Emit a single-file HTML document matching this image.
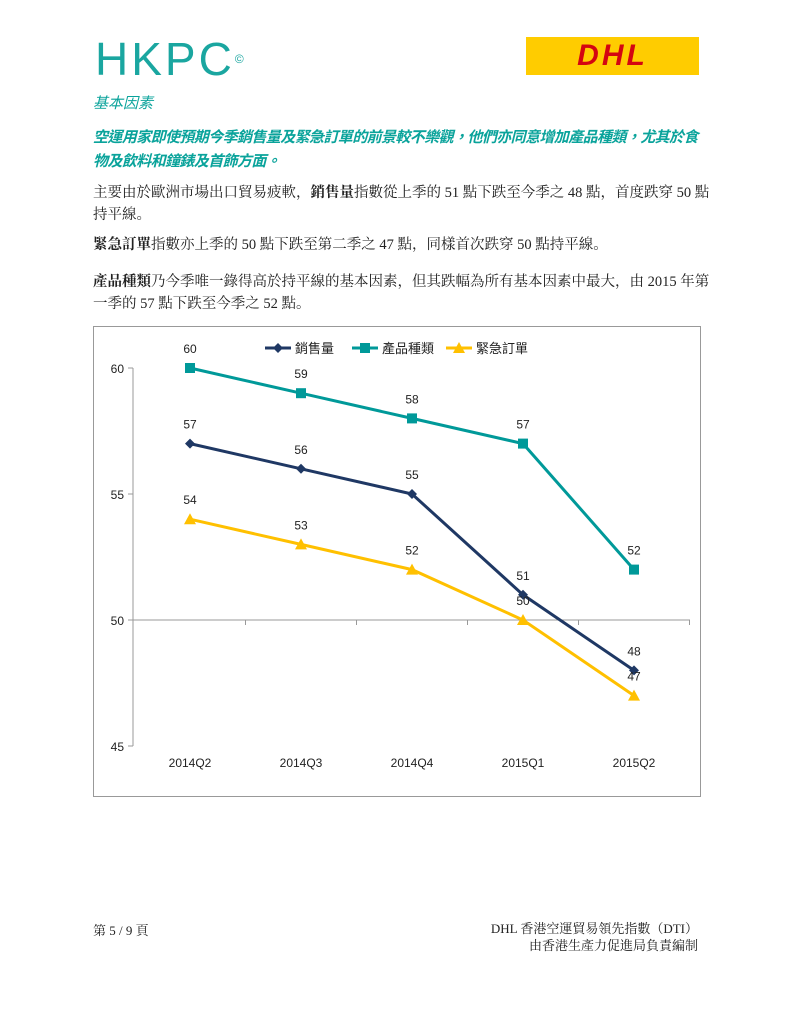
<!DOCTYPE html>
<html><head><meta charset="utf-8">
<style>
body{margin:0;width:791px;height:1024px;background:#fff;position:relative;font-family:"Liberation Serif","Noto Serif CJK SC","Noto Sans CJK TC",serif;color:#222;overflow:hidden}
.abs{position:absolute}
.t{font-size:14.5px;line-height:22px;left:93px;width:625px}
.teal{color:#0aa39b;font-style:italic;font-family:"Liberation Sans","Noto Sans CJK TC",sans-serif}
</style></head><body>
<div class="abs" style="left:95px;top:36px;font:46px 'Liberation Sans',sans-serif;color:#1aa6a0;letter-spacing:3px;line-height:46px">HKPC<span style="font-size:12px;vertical-align:top">©</span></div>
<div class="abs" style="left:526px;top:37px;width:173px;height:38px;background:#ffcc00;text-align:center;font:italic bold 30px 'Liberation Sans',sans-serif;color:#d40511;line-height:38px;letter-spacing:3px">DHL</div>
<div class="abs teal" style="left:93px;top:92px;font-size:15px">基本因素</div>
<div class="abs teal t" style="top:126px;font-size:15px;font-weight:bold;line-height:24px;letter-spacing:-0.6px;width:612px">空運用家即使預期今季銷售量及緊急訂單的前景較不樂觀，他們亦同意增加產品種類，尤其於食物及飲料和鐘錶及首飾方面。</div>
<div class="abs t" style="top:182px">主要由於歐洲市場出口貿易疲軟，<b>銷售量</b>指數從上季的 51 點下跌至今季之 48 點，首度跌穿 50 點持平線。</div>
<div class="abs t" style="top:234px"><b>緊急訂單</b>指數亦上季的 50 點下跌至第二季之 47 點，同樣首次跌穿 50 點持平線。</div>
<div class="abs t" style="top:271px"><b>產品種類</b>乃今季唯一錄得高於持平線的基本因素，但其跌幅為所有基本因素中最大，由 2015 年第一季的 57 點下跌至今季之 52 點。</div>
<svg class="abs" style="left:0;top:0" width="791" height="1024" id="chart"></svg>
<div class="abs" style="left:93px;top:920px;font-size:13px">第 5 / 9 頁</div>
<div class="abs" style="right:93px;top:920px;font-size:13px;text-align:right;line-height:17px">DHL 香港空運貿易領先指數（DTI）<br>由香港生產力促進局負責編制</div>
<script>
const categories=["2014Q2","2014Q3","2014Q4","2015Q1","2015Q2"];
const seriesNames=["銷售量","產品種類","緊急訂單"];
const sales=[57,56,55,51,48];
const products=[60,59,58,57,52];
const urgent=[54,53,52,50,47];
const yTicks=[45,50,55,60];
const NS="http://www.w3.org/2000/svg";
const svg=document.getElementById('chart');
const x=i=>190+i*111, y=v=>368+(60-v)*25.2;
function el(t,a,p){const e=document.createElementNS(NS,t);for(const k in a)e.setAttribute(k,a[k]);(p||svg).appendChild(e);return e;}
const F='"Liberation Sans","Noto Sans CJK TC",sans-serif';
const frame=el('rect',{x:93.5,y:326.5,width:607,height:470,fill:'none',stroke:'#999'});

const ya=el('line',{x1:133,y1:368,x2:133,y2:746,stroke:'#999'});

yTicks.forEach(v=>{el('line',{x1:128,x2:133,y1:y(v),y2:y(v),stroke:'#999'});
 const t=el('text',{x:124,y:y(v)+5,'text-anchor':'end','font-size':12,'font-family':F,fill:'#222'});t.textContent=v;
 });
const xa=el('line',{x1:133,x2:690,y1:y(50),y2:y(50),stroke:'#999'});

categories.forEach((c,i)=>{const tx=x(i)+55.5;el('line',{x1:tx,x2:tx,y1:y(50),y2:y(50)+5,stroke:'#999'});
 const t=el('text',{x:x(i),y:767,'text-anchor':'middle','font-size':12,'font-family':F,fill:'#222'});t.textContent=c;
 });
function marker(type,cx,cy,col,g){
 if(type==0)el('polygon',{points:`${cx},${cy-5} ${cx+5},${cy} ${cx},${cy+5} ${cx-5},${cy}`,fill:col},g);
 else if(type==1)el('rect',{x:cx-5,y:cy-5,width:10,height:10,fill:col},g);
 else el('polygon',{points:`${cx},${cy-6} ${cx+6},${cy+5} ${cx-6},${cy+5}`,fill:col},g);}
const cols=['#1f3864','#009999','#ffc000'];
[sales,products,urgent].forEach((d,s)=>{
 const g=el('g',{});
 el('polyline',{points:d.map((v,i)=>x(i)+','+y(v)).join(' '),fill:'none',stroke:cols[s],'stroke-width':3},g);
 d.forEach((v,i)=>{marker(s,x(i),y(v),cols[s],g);
  const t=el('text',{x:x(i),y:y(v)-15,'text-anchor':'middle','font-size':12,'font-family':F,fill:'#222'},g);t.textContent=v;
  });
});
const lx=[265,352,446];
seriesNames.forEach((n,s)=>{const g=el('g',{});
 el('line',{x1:lx[s],x2:lx[s]+26,y1:348,y2:348,stroke:cols[s],'stroke-width':3},g);marker(s,lx[s]+13,348,cols[s],g);
 const t=el('text',{x:lx[s]+30,y:353,'font-size':13,'font-family':F,fill:'#222'},g);t.textContent=n;});
</script>
</body></html>
